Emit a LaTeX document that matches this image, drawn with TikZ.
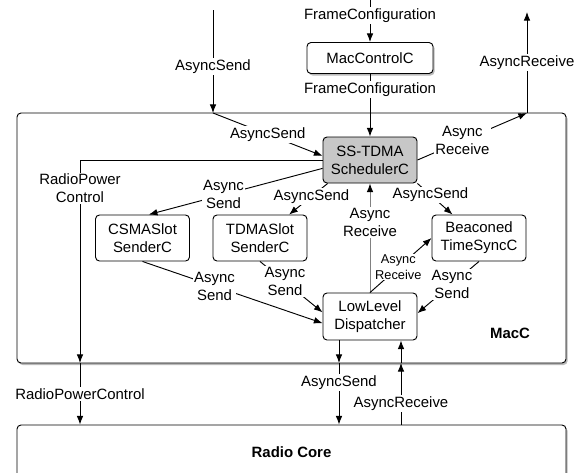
\documentclass[tikz,border=0pt]{standalone}
\usepackage{fontspec}
\setmainfont{Liberation Sans}
\usetikzlibrary{arrows.meta,shadows}

\begin{document}
\begin{tikzpicture}[x=0.75pt,y=-0.75pt,line width=0.7pt,
    font=\fontsize{11.2}{13.5}\selectfont,
    arr/.style={-{Latex[length=6.5pt,width=5pt]}},
    greyarr/.style={-{Latex[length=6.5pt,width=5pt,color=black]},draw=black!50},
    lbl/.style={fill=white,inner sep=1pt,align=center},
    smalltext/.style={font=\fontsize{9.6}{11.8}\selectfont},
    compbox/.style={draw,rounded corners=3pt,fill=white,align=center,minimum width=70.5pt,minimum height=34.5pt,inner sep=0pt},
    blockbox/.style={draw,rounded corners=3pt,fill=white,inner sep=0pt,drop shadow={shadow xshift=1.2pt,shadow yshift=-1.5pt,fill=black!45,opacity=0.6}}]
    \useasboundingbox (0,0) rectangle (584,472);
    \node[blockbox,minimum width=411.75pt,minimum height=187.5pt] (macc) at (291.5,238) {};
    \node[blockbox,minimum width=411.75pt,minimum height=40.5pt] (rc) at (291.5,452) {\bfseries Radio Core};
    \node[blockbox,minimum width=94.5pt,minimum height=23.25pt] (mcc) at (370,58) {MacControlC};
    \node (macclabel) at (510,333) {\bfseries MacC};
    \node[compbox,fill=black!22] (sched) at (370,160) {SS-TDMA\\SchedulerC};
    \foreach \n/\x/\t in {csma/142.5/{CSMASlot\\SenderC},tdma/260/{TDMASlot\\SenderC},beacon/479/{Beaconed\\TimeSyncC}}
      \node[compbox] (\n) at (\x,238) {\t};
    \node[compbox,minimum height=35.25pt] (lld) at (370,316.5) {LowLevel\\Dispatcher};
    \coordinate (sendin) at (213,10);
    \coordinate (sendtop) at (213,113);
    \coordinate (frametop) at (370,0);
    \coordinate (rcvout) at (527,12);
    \coordinate (rcvtop) at (527,113);
    \coordinate (pwrdown) at (80,363);
    \coordinate (sendout) at (339,363);
    \coordinate (rcvin) at (401,363);
    \draw[arr] (sendin) -- node[lbl,pos=0.55]{AsyncSend} (sendtop);
    \draw[arr] (sendtop) -- node[lbl]{AsyncSend} (sched.175);
    \draw[arr] (sched.west) -| node[lbl,pos=0.57]{RadioPower\\Control} (pwrdown);
    \draw[arr] (pwrdown) -- node[lbl]{RadioPowerControl} (rc.north -| pwrdown);
    \draw[arr] (frametop) -- node[lbl,pos=0.37]{FrameConfiguration} (mcc);
    \draw[arr] (mcc) -- node[lbl,pos=0.25]{FrameConfiguration} (sched);
    \draw[arr] (sched.east) -- node[lbl,pos=0.41]{Async\\Receive} (rcvtop);
    \draw[arr] (rcvtop) -- node[lbl]{AsyncReceive} (rcvout);
    \draw[arr] (sched.190) -- node[lbl,pos=0.57]{Async\\Send} (csma.75);
    \draw[arr] (sched.-151) -- node[lbl,pos=0.42]{AsyncSend} (tdma);
    \draw[arr] (sched.south east) -- node[lbl,pos=0.37]{AsyncSend} (beacon);
    \draw[greyarr] (lld) -- node[lbl,pos=0.64]{Async\\Receive} (sched);
    \draw[arr] (lld.north) -- node[lbl,smalltext,inner sep=0.5pt,pos=0.46]{Async\\Receive} (beacon.west);
    \draw[arr] (csma.south) -- node[lbl,pos=0.4]{Async\\Send} (lld.188);
    \draw[arr] (tdma.south) -- node[lbl,pos=0.4]{Async\\Send} (lld.175);
    \draw[arr] (beacon.south) -- node[lbl,pos=0.44]{Async\\Send} (lld.4);
    \draw[arr] (lld.south -| sendout) -- (sendout);
    \draw[arr] (sendout) -- node[lbl,pos=0.32]{AsyncSend} (rc.north -| sendout);
    \draw[arr] (rc.north -| rcvin) -- node[lbl,pos=0.34]{AsyncReceive} (rcvin);
    \draw[arr] (rcvin) -- (lld.south -| rcvin);
\end{tikzpicture}
\end{document}
